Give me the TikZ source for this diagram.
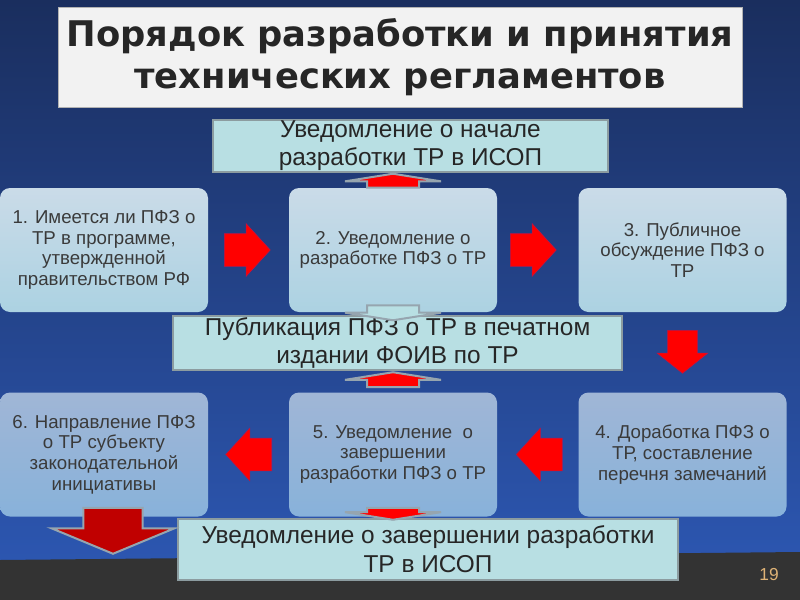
\documentclass[tikz,border=0pt]{standalone}
\usepackage{fontspec}
\setmainfont{Liberation Sans}
\newfontfamily\titlefont{DejaVu Sans}
\usetikzlibrary{shapes.arrows,positioning,calc}
\definecolor{bgtop}{RGB}{26,46,94}
\definecolor{bgbot}{RGB}{44,86,176}
\definecolor{band}{RGB}{51,51,51}
\definecolor{noteblue}{RGB}{184,223,227}
\definecolor{noteedge}{RGB}{140,156,160}
\definecolor{uptop}{RGB}{202,219,232}
\definecolor{upbot}{RGB}{172,210,226}
\definecolor{lowtop}{RGB}{160,182,214}
\definecolor{lowbot}{RGB}{136,178,218}
\definecolor{txt}{RGB}{58,58,58}
\definecolor{pagenum}{RGB}{222,178,118}
\definecolor{darkred}{RGB}{192,0,0}
\definecolor{arrowedge}{RGB}{150,165,175}
\tikzset{
stage/.style={rectangle, rounded corners=7.5pt, minimum width=156pt, minimum height=93pt, align=center, text=txt, font=\fontsize{14}{15.5}\selectfont, inner sep=2pt},
upper/.style={stage, top color=uptop, bottom color=upbot},
lower/.style={stage, top color=lowtop, bottom color=lowbot},
note/.style={rectangle, draw=noteedge, line width=1.5pt, fill=noteblue, align=center, text=black!85, inner sep=0pt, font=\fontsize{18.3}{21}\selectfont},
fatarrow/.style={single arrow, fill=red, draw={rgb,255:red,190;green,20;blue,70}, line width=0.4pt, minimum height=34.5pt, minimum width=39pt, inner xsep=0pt, inner ysep=12pt, single arrow head extend=7.5pt, single arrow tip angle=95, outer sep=0pt, anchor=tail},
flatarrow/.style={single arrow, fill=red, draw=arrowedge, line width=1.5pt, minimum width=70.5pt, inner xsep=18.75pt, inner ysep=0pt, single arrow head extend=16.5pt, single arrow tip angle=162, outer sep=0pt, anchor=tail}
}
\begin{document}
\begin{tikzpicture}[x=0.75pt, y=-0.75pt]
    % Background
    \shade[top color=bgtop, bottom color=bgbot] (0,0) rectangle (800,560);
    \fill[band] (0,560) -- (800,552) -- (800,600) -- (0,600) -- cycle;
    \useasboundingbox (0,0) rectangle (800,600);
    % Title
    \node[draw=gray!60, fill=black!5, minimum width=513pt, minimum height=75pt, align=center, text=black!85,
        font=\titlefont\bfseries\fontsize{26.5}{31.5}\selectfont] (title) at (400,57)
        {Порядок разработки и принятия\\технических регламентов};
    % Place stages
    \node[upper] (s1) at (104,250) {1. Имеется ли ПФЗ о\\ТР в программе,\\утвержденной\\правительством РФ};
    \node[upper] (s2) at (393,250) {2. Уведомление о\\разработке ПФЗ о ТР};
    \node[upper] (s3) at (682.5,250) {3. Публичное\\обсуждение ПФЗ о\\ТР};
    \node[lower] (s4) at (682.5,454.5) {4. Доработка ПФЗ о\\ТР, составление\\перечня замечаний};
    \node[lower] (s5) at (393,454.5) {5. Уведомление~ о\\завершении\\разработки ПФЗ о ТР};
    \node[lower] (s6) at (104,454.5) {6. Направление ПФЗ\\о ТР субъекту\\законодательной\\инициативы};
    % Notes
    \node[note, minimum width=296pt, minimum height=39pt] (n1) at (410.5,146)
        {Уведомление о начале\\разработки ТР в ИСОП};
    \node[note, minimum width=336.75pt, minimum height=40.5pt] (n2) at (397.5,343)
        {Публикация ПФЗ о ТР в печатном\\издании ФОИВ по ТР};
    \node[note, minimum width=375pt, minimum height=45.75pt, font=\fontsize{18.3}{21.75}\selectfont] (n3) at (428,549.5)
        {Уведомление о завершении разработки\\ТР в ИСОП};
    % Big arrows between stages
    \node[fatarrow] (a12) at ([xshift=12pt]s1.east) {};
    \node[fatarrow] (a23) at ([xshift=9.75pt]s2.east) {};
    \node[fatarrow, shape border rotate=270, minimum height=32.25pt, minimum width=37.5pt, inner xsep=10.9pt, inner ysep=0pt, single arrow head extend=7.9pt, single arrow tip angle=103] (a34) at ([yshift=-13.5pt]s3.south) {};
    \node[fatarrow, shape border rotate=180] (a45) at ([xshift=-12pt]s4.west) {};
    \node[fatarrow, shape border rotate=180] (a56) at ([xshift=-12.75pt]s5.west) {};
    % Small arrows to notes
    \node[flatarrow, shape border rotate=90, minimum height=10.5pt] (u1) at (s2.north) {};
    \node[flatarrow, fill=noteblue, shape border rotate=270, minimum height=11.25pt] (d1) at ([yshift=5.25pt]s2.south) {};
    \node[flatarrow, shape border rotate=90, minimum height=11.25pt] (u2) at ([yshift=3.75pt]s5.north) {};
    \node[flatarrow, shape border rotate=270, minimum height=9pt] (d2) at ([yshift=6.75pt]s5.south) {};
    \node[flatarrow, fill=darkred, shape border rotate=270, minimum height=34.5pt, minimum width=92.25pt, inner xsep=21.4pt, single arrow head extend=24pt, single arrow tip angle=135] (a6) at ([xshift=6.75pt, yshift=6.75pt]s6.south) {};
    % Page number
    \node[text=pagenum, font=\fontsize{13}{15}\selectfont] (page) at (769,575) {19};
\end{tikzpicture}
\end{document}
